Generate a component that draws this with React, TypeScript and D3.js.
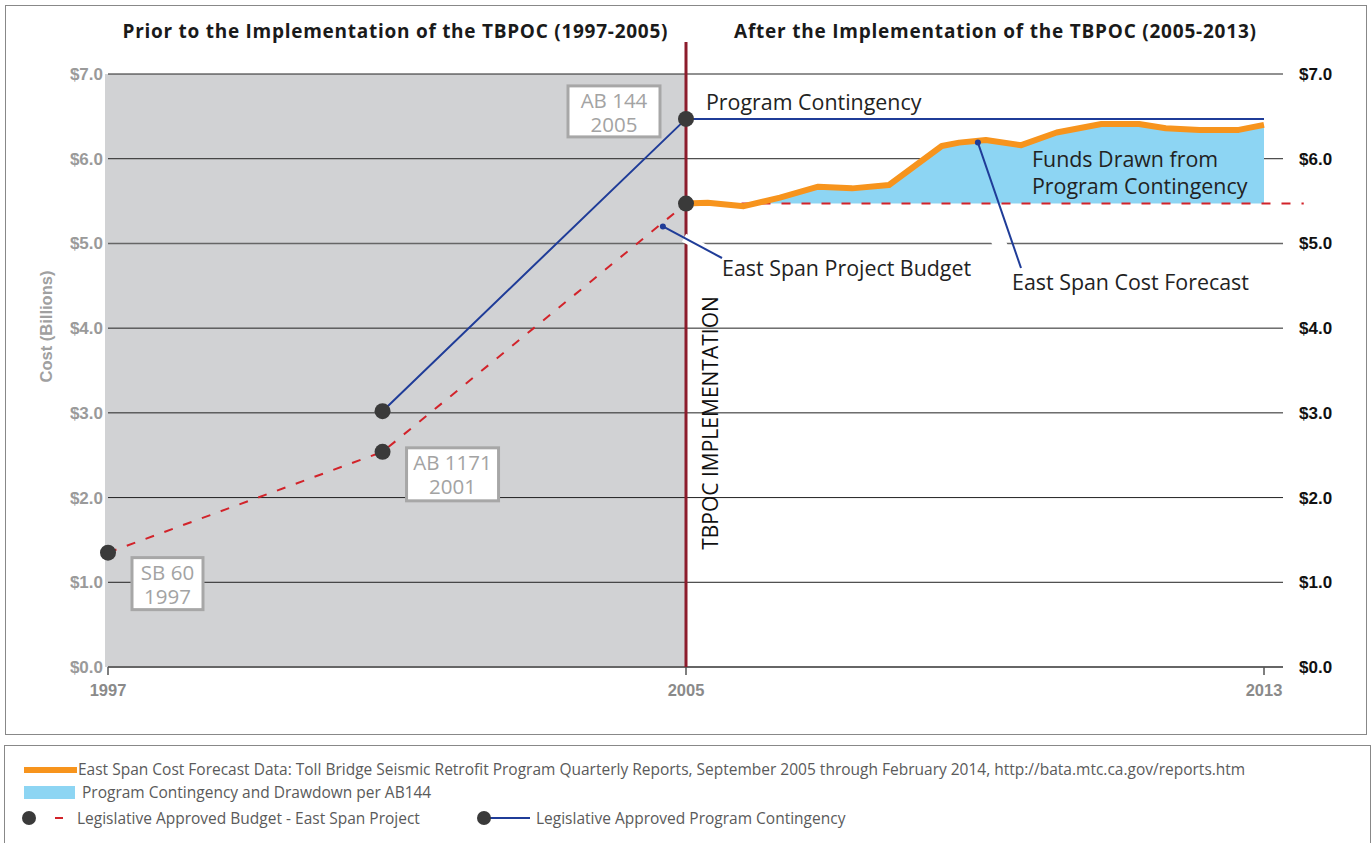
import { useRef, useEffect } from 'react';
import * as d3 from 'd3';

// values (years as decimal years, cost in $ billions)
const yTicks = [0, 1, 2, 3, 4, 5, 6, 7];
const xTicks = [1997, 2005, 2013];

const budgetYears = [1997, 2000.8, 2005, 2013.55];
const budgetValues = [1.35, 2.54, 5.47, 5.47];

const contingencyYears = [2000.8, 2005, 2013];
const contingencyValues = [3.02, 6.47, 6.47];

const forecastYears = [
  2005, 2005.3, 2005.8, 2006.3, 2006.83, 2007.3, 2007.81, 2008.54, 2008.78,
  2009.15, 2009.64, 2010.13, 2010.75, 2011.27, 2011.64, 2012.11, 2012.65, 2013,
];
const forecastValues = [
  5.47, 5.48, 5.44, 5.54, 5.67, 5.65, 5.69, 6.15, 6.19, 6.22, 6.16, 6.31, 6.41,
  6.41, 6.36, 6.34, 6.34, 6.4,
];

const milestoneLabels = ['SB 60', 'AB 1171', 'AB 144'];
const milestoneYears = ['1997', '2001', '2005'];

const legendLabels = [
  'East Span Cost Forecast Data: Toll Bridge Seismic Retrofit Program Quarterly Reports, September 2005 through February 2014, http://bata.mtc.ca.gov/reports.htm',
  'Program Contingency and Drawdown per AB144',
  'Legislative Approved Budget - East Span Project',
  'Legislative Approved Program Contingency',
];

export default function App() {
  const svgRef = useRef(null);

  useEffect(() => {
    const W = 1371;
    const H = 843;
    const svg = d3.select(svgRef.current).attr('width', W).attr('height', H);
    svg.selectAll('*').remove();

    const font = "'Open Sans', 'Noto Sans', sans-serif";
    const axisFont = "'Liberation Sans', Arial, sans-serif";
    const orange = '#f7941d';
    const skyBlue = '#8dd5f3';
    const navy = '#1f3c98';
    const red = '#d2232a';
    const maroon = '#8c1c2c';
    const dotColor = '#3a3a3a';

    const x = d3.scaleLinear().domain([1997, 2013]).range([108, 1264]);
    const y = d3.scaleLinear().domain([0, 7]).range([667, 74]);

    // frames
    svg.append('rect').attr('x', 5.5).attr('y', 5.5).attr('width', 1361).attr('height', 729)
      .attr('fill', 'white').attr('stroke', '#888').attr('stroke-width', 1);
    svg.append('rect').attr('x', 4.5).attr('y', 745.5).attr('width', 1366).attr('height', 110)
      .attr('fill', 'white').attr('stroke', '#888').attr('stroke-width', 1);

    // grey "prior" region
    svg.append('rect')
      .attr('x', x(1997) - 3).attr('y', y(7))
      .attr('width', x(2005) - x(1997) + 3).attr('height', y(0) - y(7))
      .attr('fill', '#d1d2d4');

    // gridlines
    svg.append('g').selectAll('line').data(yTicks).join('line')
      .attr('x1', x(1997)).attr('x2', 1283)
      .attr('y1', (d) => y(d)).attr('y2', (d) => y(d))
      .attr('stroke', (d) => (d === 0 || d === 5 ? '#666' : '#222'))
      .attr('stroke-width', (d) => (d === 0 ? 2 : d === 5 ? 1.5 : 1));

    // left axis labels
    svg.append('g').selectAll('text').data(yTicks).join('text')
      .attr('x', 103).attr('y', (d) => y(d) + 6)
      .attr('text-anchor', 'end')
      .attr('font-family', axisFont).attr('font-weight', 'bold').attr('font-size', 17)
      .attr('fill', '#9a9a9a')
      .text((d) => '$' + d.toFixed(1));

    // right axis labels
    svg.append('g').selectAll('text').data(yTicks).join('text')
      .attr('x', 1299).attr('y', (d) => y(d) + 6)
      .attr('font-family', axisFont).attr('font-weight', 'bold').attr('font-size', 17)
      .attr('fill', '#111')
      .text((d) => '$' + d.toFixed(1));

    // x ticks
    const xg = svg.append('g');
    xg.selectAll('line').data(xTicks).join('line')
      .attr('x1', (d) => x(d)).attr('x2', (d) => x(d))
      .attr('y1', y(0)).attr('y2', y(0) + 8)
      .attr('stroke', '#555').attr('stroke-width', 1.5);
    xg.selectAll('text').data(xTicks).join('text')
      .attr('x', (d) => x(d)).attr('y', 696)
      .attr('text-anchor', 'middle')
      .attr('font-family', axisFont).attr('font-weight', 'bold').attr('font-size', 16.5)
      .attr('fill', '#8a8a8a')
      .text((d) => d);

    // y axis title
    svg.append('text')
      .attr('transform', `translate(52, ${(y(0) + y(7)) / 2 - 44}) rotate(-90)`)
      .attr('text-anchor', 'middle')
      .attr('font-family', axisFont).attr('font-weight', 'bold').attr('font-size', 16.5)
      .attr('fill', '#a0a0a0')
      .text('Cost (Billions)');

    // section titles
    svg.append('text').attr('x', 395).attr('y', 38).attr('text-anchor', 'middle')
      .attr('font-family', font).attr('font-weight', 'bold').attr('font-size', 19)
      .attr('fill', '#1a1a1a').attr('textLength', 545)
      .text('Prior to the Implementation of the TBPOC (1997-2005)');
    svg.append('text').attr('x', 995).attr('y', 38).attr('text-anchor', 'middle')
      .attr('font-family', font).attr('font-weight', 'bold').attr('font-size', 19)
      .attr('fill', '#1a1a1a').attr('textLength', 522)
      .text('After the Implementation of the TBPOC (2005-2013)');

    // contingency drawdown area
    const forecast = forecastYears.map((yr, i) => [yr, forecastValues[i]]);
    const base = budgetValues[2];
    svg.append('path')
      .datum(forecast)
      .attr('d', d3.area().x((d) => x(d[0])).y0(y(base)).y1((d) => y(d[1])))
      .attr('fill', skyBlue);

    // budget dashed line
    const budget = budgetYears.map((yr, i) => [yr, budgetValues[i]]);
    svg.append('path')
      .datum(budget)
      .attr('d', d3.line().x((d) => x(d[0])).y((d) => y(d[1])))
      .attr('fill', 'none').attr('stroke', red).attr('stroke-width', 2)
      .attr('stroke-dasharray', '9,11');

    // forecast orange line
    svg.append('path')
      .datum(forecast)
      .attr('d', d3.line().x((d) => x(d[0])).y((d) => y(d[1])))
      .attr('fill', 'none').attr('stroke', orange).attr('stroke-width', 6)
      .attr('stroke-linejoin', 'round');

    // contingency blue line
    const contingency = contingencyYears.map((yr, i) => [yr, contingencyValues[i]]);
    svg.append('path')
      .datum(contingency)
      .attr('d', d3.line().x((d) => x(d[0])).y((d) => y(d[1])))
      .attr('fill', 'none').attr('stroke', navy).attr('stroke-width', 2);

    // TBPOC implementation line
    svg.append('line')
      .attr('x1', x(2005)).attr('x2', x(2005)).attr('y1', 42).attr('y2', y(0))
      .attr('stroke', maroon).attr('stroke-width', 3);
    svg.append('text')
      .attr('transform', `translate(${x(2005) + 32}, ${423}) rotate(-90)`)
      .attr('text-anchor', 'middle')
      .attr('font-family', font).attr('font-size', 21).attr('fill', '#111')
      .text('TBPOC IMPLEMENTATION');

    // dots
    const dots = [
      [budgetYears[0], budgetValues[0]],
      [budgetYears[1], budgetValues[1]],
      [budgetYears[2], budgetValues[2]],
      [contingencyYears[0], contingencyValues[0]],
      [contingencyYears[1], contingencyValues[1]],
    ];
    svg.append('g').selectAll('circle').data(dots).join('circle')
      .attr('cx', (d) => x(d[0])).attr('cy', (d) => y(d[1])).attr('r', 8)
      .attr('fill', dotColor);

    // milestone boxes
    const boxes = [
      { px: x(1997) + 24, py: y(budgetValues[0]) + 5, w: 71, h: 52 },
      { px: x(2000.8) + 24, py: y(budgetValues[1]) - 4, w: 92, h: 53 },
      { px: x(2005) - 118, py: y(contingencyValues[1]) - 33, w: 92, h: 51 },
    ];
    boxes.forEach((b, i) => {
      const g = svg.append('g');
      g.append('rect').attr('x', b.px).attr('y', b.py).attr('width', b.w).attr('height', b.h)
        .attr('fill', 'white').attr('stroke', '#a7a7a7').attr('stroke-width', 3);
      const t = g.append('text').attr('text-anchor', 'middle').attr('font-family', font)
        .attr('font-size', 20.5).attr('fill', '#a3a3a3');
      t.append('tspan').attr('x', b.px + b.w / 2).attr('y', b.py + 22).text(milestoneLabels[i]);
      t.append('tspan').attr('x', b.px + b.w / 2).attr('y', b.py + 46).text(milestoneYears[i]);
    });

    // annotations
    const label = (tx, ty, t) =>
      svg.append('text').attr('x', tx).attr('y', ty)
        .attr('font-family', font).attr('font-size', 21.4).attr('fill', '#222').text(t);

    label(706, 110, 'Program Contingency');
    label(1032, 167, 'Funds Drawn from');
    label(1032, 194, 'Program Contingency');

    // project budget pointer (white halo only right of the TBPOC line)
    const bx = x(2004.68);
    const by = y(5.2);
    svg.append('line').attr('x1', x(2005) - 2).attr('y1', by + (x(2005) - 2 - bx) * (32 / 60))
      .attr('x2', 722).attr('y2', 258)
      .attr('stroke', 'white').attr('stroke-width', 9);
    svg.append('line').attr('x1', bx).attr('y1', by).attr('x2', 722).attr('y2', 258)
      .attr('stroke', navy).attr('stroke-width', 2);
    svg.append('circle').attr('cx', bx).attr('cy', by).attr('r', 3).attr('fill', navy);
    label(722, 276, 'East Span Project Budget');

    // cost forecast pointer, with a white gap across the $5.0 gridline
    const fx = x(2009.04);
    const fy = y(6.19);
    svg.append('line').attr('x1', 996).attr('y1', 236).attr('x2', 1004).attr('y2', 254)
      .attr('stroke', 'white').attr('stroke-width', 14);
    svg.append('line').attr('x1', fx).attr('y1', fy).attr('x2', 1021).attr('y2', 268)
      .attr('stroke', navy).attr('stroke-width', 2);
    svg.append('circle').attr('cx', fx).attr('cy', fy).attr('r', 3).attr('fill', navy);
    label(1012, 290, 'East Span Cost Forecast');

    // legend
    const lg = svg.append('g');
    const lfs = 15.5;
    const lc = '#5a5a5a';
    lg.append('rect').attr('x', 24).attr('y', 767).attr('width', 53).attr('height', 6).attr('fill', orange);
    lg.append('text').attr('x', 78).attr('y', 775).attr('font-family', font).attr('font-size', lfs)
      .attr('fill', lc).text(legendLabels[0]);
    lg.append('rect').attr('x', 24).attr('y', 786).attr('width', 51).attr('height', 13).attr('fill', skyBlue);
    lg.append('text').attr('x', 82).attr('y', 798).attr('font-family', font).attr('font-size', lfs)
      .attr('fill', lc).text(legendLabels[1]);
    lg.append('circle').attr('cx', 29).attr('cy', 818).attr('r', 7).attr('fill', dotColor);
    lg.append('line').attr('x1', 55).attr('x2', 63).attr('y1', 818).attr('y2', 818)
      .attr('stroke', red).attr('stroke-width', 2);
    lg.append('text').attr('x', 77).attr('y', 824).attr('font-family', font).attr('font-size', lfs)
      .attr('fill', lc).text(legendLabels[2]);
    lg.append('line').attr('x1', 484).attr('x2', 530).attr('y1', 818).attr('y2', 818)
      .attr('stroke', navy).attr('stroke-width', 2);
    lg.append('circle').attr('cx', 484).attr('cy', 818).attr('r', 7).attr('fill', dotColor);
    lg.append('text').attr('x', 536).attr('y', 824).attr('font-family', font).attr('font-size', lfs)
      .attr('fill', lc).text(legendLabels[3]);
  }, []);

  return (
    <svg
      ref={svgRef}
      style={{ position: 'absolute', left: 0, top: 0, display: 'block' }}
    ></svg>
  );
}
